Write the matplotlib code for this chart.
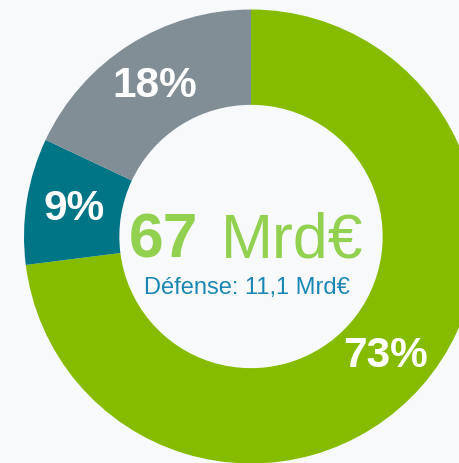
import matplotlib.pyplot as plt

# part des dépenses (en %)
labels = ['Autres', 'Défense', 'Reste']
shares = [73, 9, 18]
colors = ['#86bc00', '#007585', '#828e96']

total_value = '67'
total_unit = 'Mrd€'
sub_text = 'Défense: 11,1 Mrd€'

plt.rcParams['font.family'] = ['Liberation Sans', 'DejaVu Sans']

W, H = 459, 464
fig = plt.figure(figsize=(W / 100, H / 100), dpi=100)
fig.patch.set_facecolor('#f8f9fb')
ax = fig.add_axes([0, 0, 1, 1])
ax.set_facecolor('#f8f9fb')

# centre du donut en pixels, rayon externe en pixels
cx, cy, R = 251, 237.5, 227

wedges, _, autotexts = ax.pie(
    shares, colors=colors, startangle=90, counterclock=False,
    radius=1, autopct='%.0f%%', pctdistance=0.79,
    wedgeprops=dict(width=0.42, linewidth=0),
)
for t in autotexts:
    t.set_color('white')
    t.set_fontsize(30.5)
    t.set_fontweight('bold')

ax.set_xlim(-cx / R, (W - cx) / R)
ax.set_ylim(-(H - cy) / R, cy / R)
ax.set_aspect('auto')
ax.axis('off')

green_txt = '#92d050'
ax.text((198 - cx) / R, (cy - 257) / R, total_value, ha='right', va='baseline',
        fontsize=45, fontweight='bold', color=green_txt)
ax.text((221 - cx) / R, (cy - 257) / R, total_unit, ha='left', va='baseline',
        fontsize=45, color=green_txt)
ax.text((246.5 - cx) / R, (cy - 294) / R, sub_text, ha='center', va='baseline',
        fontsize=17, color='#1a87b5')

fig.savefig('out.png', dpi=100, facecolor=fig.get_facecolor())
